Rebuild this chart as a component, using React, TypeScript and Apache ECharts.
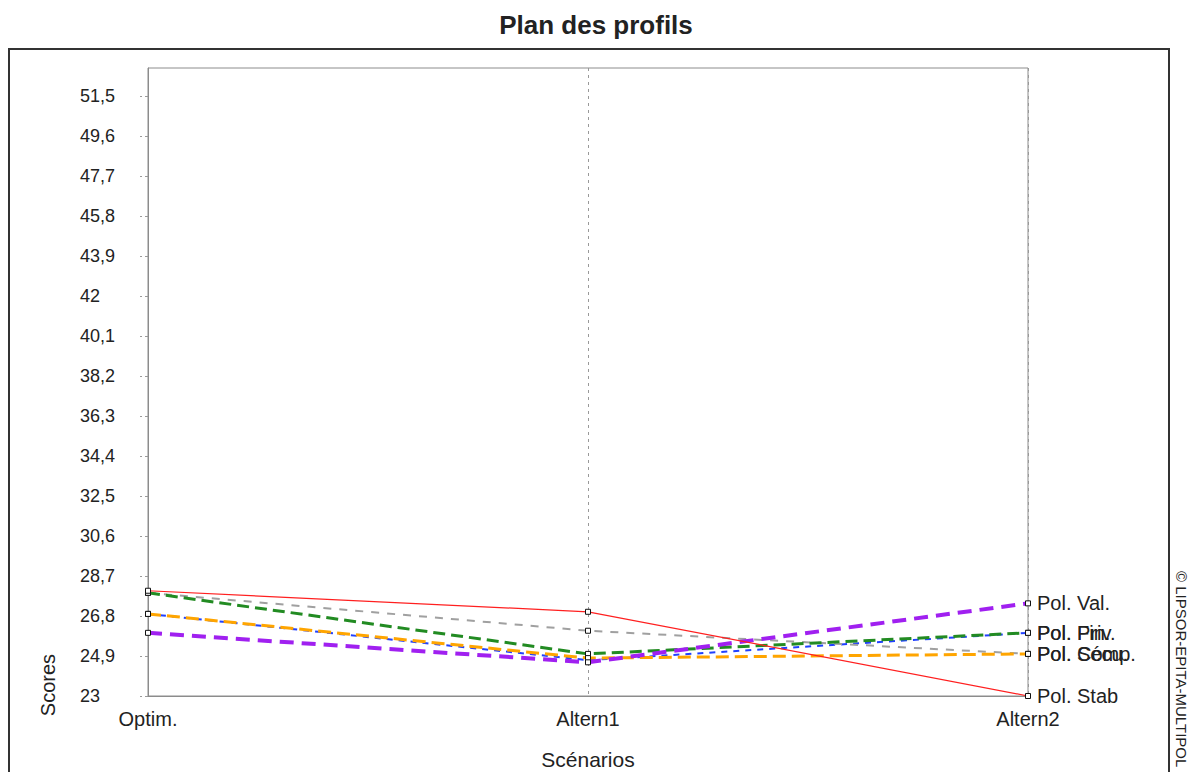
import React, { useEffect, useRef } from "react";
import * as echarts from "echarts";

const categories = ["Optim.", "Altern1", "Altern2"];
const yTicks = [23, 24.9, 26.8, 28.7, 30.6, 32.5, 34.4, 36.3, 38.2, 40.1, 42, 43.9, 45.8, 47.7, 49.6, 51.5];

const seriesNames = ["Pol. Fin.", "Pol. Sécu.", "Pol. Priv.", "Pol. Comp.", "Pol. Val.", "Pol. Stab"];
const polFin = [26.9, 24.7, 26.0];
const polSecu = [27.9, 26.1, 25.0];
const polPriv = [27.9, 25.0, 26.0];
const polComp = [26.9, 24.8, 25.0];
const polVal = [26.0, 24.6, 27.4];
const polStab = [28.0, 27.0, 23.0];
const seriesData = [polFin, polSecu, polPriv, polComp, polVal, polStab];

const colors = ["#2040ff", "#a0a0a0", "#228b22", "#ffa500", "#a020f0", "#ff2020"];
const widths = [2, 2, 3, 3, 4, 1.2];
const dashes: any[] = [[6, 6], [8, 8], [12, 6], [13, 6], [14, 8], "solid"];

const FONT = "Liberation Sans, Arial, sans-serif";

export default function App() {
  const ref = useRef<HTMLDivElement>(null);
  useEffect(() => {
    if (!ref.current) return;
    const chart = echarts.init(ref.current, undefined, { renderer: "svg" });
    const fmt = (v: number) => {
      const r = Math.round(v * 10) / 10;
      return (Number.isInteger(r) ? String(r) : r.toFixed(1)).replace(".", ",");
    };
    chart.setOption({
      animation: false,
      backgroundColor: "#ffffff",
      textStyle: { fontFamily: FONT },
      grid: {
        left: 148,
        top: 68,
        right: 173,
        bottom: 76,
        show: true,
        borderColor: "#8c8c8c",
        borderWidth: 1,
        outerBoundsMode: "none",
        containLabel: false,
      },
      xAxis: {
        type: "category",
        data: categories,
        boundaryGap: false,
        name: "Scénarios",
        nameLocation: "middle",
        nameGap: 53,
        nameTextStyle: { fontSize: 21, color: "#222", fontFamily: FONT },
        axisLine: { lineStyle: { color: "#8c8c8c" } },
        axisTick: { show: false },
        axisLabel: { fontSize: 20, color: "#222", margin: 13, fontFamily: FONT },
        splitLine: { show: true, lineStyle: { color: "#999", type: [3, 4], width: 1 } },
      },
      yAxis: {
        type: "value",
        min: 23,
        max: 52.83,
        axisLine: { show: true, lineStyle: { color: "#8c8c8c" } },
        axisTick: {
          show: true,
          length: 8,
          customValues: yTicks,
          lineStyle: { color: "#999", type: [3, 3] },
        },
        axisLabel: {
          customValues: yTicks,
          align: "left",
          margin: 68,
          fontSize: 18,
          color: "#222",
          fontFamily: FONT,
          formatter: (v: number) => fmt(v),
        },
        splitLine: { show: false },
      },
      graphic: [
        {
          type: "rect",
          shape: { x: 9, y: 49, width: 1160, height: 760 },
          style: { fill: "none", stroke: "#333", lineWidth: 2 },
          silent: true,
        },
        {
          type: "text",
          x: 596,
          y: 25,
          style: {
            text: "Plan des profils",
            font: `bold 26px ${FONT}`,
            fill: "#222",
            align: "center",
            verticalAlign: "middle",
          },
        },
        {
          type: "text",
          x: 48,
          y: 685,
          rotation: Math.PI / 2,
          style: {
            text: "Scores",
            font: `20px ${FONT}`,
            fill: "#222",
            align: "center",
            verticalAlign: "middle",
          },
        },
        {
          type: "text",
          x: 1181,
          y: 571,
          rotation: -Math.PI / 2,
          style: {
            text: "© LIPSOR-EPITA-MULTIPOL",
            font: `15px ${FONT}`,
            fill: "#222",
            align: "left",
            verticalAlign: "middle",
          },
        },
      ],
      series: seriesData.map((d, i) => ({
        type: "line",
        name: seriesNames[i],
        data: d,
        z: 2 + i,
        symbol: "rect",
        symbolSize: 5,
        showAllSymbol: true,
        itemStyle: { color: "#fff", borderColor: "#111", borderWidth: 1 },
        lineStyle: { color: colors[i], width: widths[i], type: dashes[i] },
        label: {
          show: true,
          position: "right",
          distance: 6,
          fontSize: 20,
          color: "#222",
          fontFamily: FONT,
          formatter: (p: any) => (p.dataIndex === d.length - 1 ? seriesNames[i] : ""),
        },
        labelLayout: { hideOverlap: false },
        emphasis: { disabled: true },
      })),
    });
    return () => chart.dispose();
  }, []);
  return (
    <div
      ref={ref}
      style={{ position: "absolute", left: 0, top: 0, width: 1201, height: 772 }}
    />
  );
}
